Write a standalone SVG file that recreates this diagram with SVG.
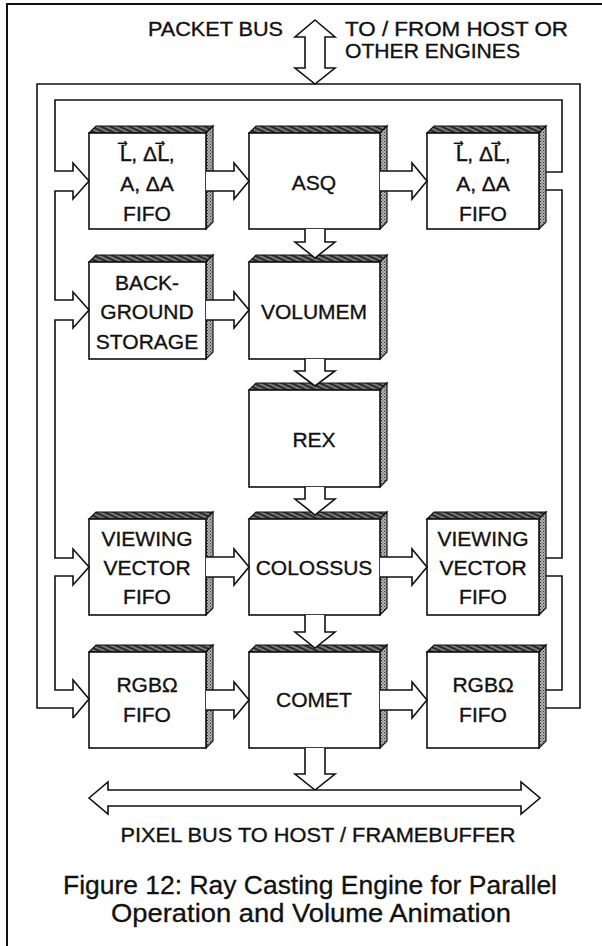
<svg xmlns="http://www.w3.org/2000/svg" width="602" height="946" viewBox="0 0 602 946">
<defs>
<pattern id="hatchTop" width="4" height="4" patternUnits="userSpaceOnUse" patternTransform="rotate(25)"><rect width="4" height="4" fill="#2a2a2a"/><line x1="0" y1="2" x2="4" y2="2" stroke="#d8d8d8" stroke-width="0.9"/></pattern>
<pattern id="stip" width="3" height="3" patternUnits="userSpaceOnUse"><rect width="3" height="3" fill="#b0b0b0"/><rect width="1" height="1" fill="#333"/><rect x="1.5" y="1.5" width="1" height="1" fill="#555"/></pattern>
</defs>
<style>
.frame{fill:none;stroke:#111;stroke-width:2}
.bus{fill:none;stroke:#111;stroke-width:1.6}
.arr{fill:#fff;stroke:#111;stroke-width:1.6;stroke-linejoin:miter}
.front{fill:#fff;stroke:#111;stroke-width:1.6}
.top{fill:url(#hatchTop);stroke:#111;stroke-width:1.2}
.side{fill:url(#stip);stroke:#111;stroke-width:1.2}
.lbl{font-family:"Liberation Sans",Arial,"DejaVu Sans",sans-serif;font-size:21px;text-anchor:middle;fill:#111;stroke:#111;stroke-width:0.35}
.hdr{font-family:"Liberation Sans",Arial,sans-serif;font-size:20px;fill:#111;stroke:#111;stroke-width:0.35}
.cap{font-family:"Liberation Sans",Arial,sans-serif;font-size:25px;text-anchor:middle;fill:#111;stroke:#111;stroke-width:0.3}
</style>
<rect width="602" height="946" fill="#fff"/>
<path class="frame" d="M7,946 V4 H602"/>

<g id="fifo_l1">
<polygon class="top" points="89,133 96,126 213,126 206,133"/>
<polygon class="side" points="206,133 213,126 213,222 206,229"/>
<rect class="front" x="89" y="133" width="117" height="96"/>
<text class="lbl" x="147" y="161">L⃗, ΔL⃗,</text>
<text class="lbl" x="147" y="191">A, ΔA</text>
<text class="lbl" x="147" y="221">FIFO</text>
</g>
<g id="asq">
<polygon class="top" points="249,133 256,126 387,126 380,133"/>
<polygon class="side" points="380,133 387,126 387,222 380,229"/>
<rect class="front" x="249" y="133" width="131" height="96"/>
<text class="lbl" x="314" y="190">ASQ</text>
</g>
<g id="fifo_r1">
<polygon class="top" points="427,133 434,126 546,126 539,133"/>
<polygon class="side" points="539,133 546,126 546,222 539,229"/>
<rect class="front" x="427" y="133" width="112" height="96"/>
<text class="lbl" x="483" y="161">L⃗, ΔL⃗,</text>
<text class="lbl" x="483" y="191">A, ΔA</text>
<text class="lbl" x="483" y="221">FIFO</text>
</g>
<g id="background_storage">
<polygon class="top" points="89,262 96,255 213,255 206,262"/>
<polygon class="side" points="206,262 213,255 213,352 206,359"/>
<rect class="front" x="89" y="262" width="117" height="97"/>
<text class="lbl" x="147" y="290">BACK-</text>
<text class="lbl" x="147" y="319">GROUND</text>
<text class="lbl" x="147" y="349">STORAGE</text>
</g>
<g id="volumem">
<polygon class="top" points="249,262 256,255 387,255 380,262"/>
<polygon class="side" points="380,262 387,255 387,352 380,359"/>
<rect class="front" x="249" y="262" width="131" height="97"/>
<text class="lbl" x="314" y="319">VOLUMEM</text>
</g>
<g id="rex">
<polygon class="top" points="249,390 256,383 387,383 380,390"/>
<polygon class="side" points="380,390 387,383 387,480 380,487"/>
<rect class="front" x="249" y="390" width="131" height="97"/>
<text class="lbl" x="314" y="447">REX</text>
</g>
<g id="vv_fifo_l">
<polygon class="top" points="89,519 96,512 213,512 206,519"/>
<polygon class="side" points="206,519 213,512 213,608 206,615"/>
<rect class="front" x="89" y="519" width="117" height="96"/>
<text class="lbl" x="147" y="546">VIEWING</text>
<text class="lbl" x="147" y="575">VECTOR</text>
<text class="lbl" x="147" y="604">FIFO</text>
</g>
<g id="colossus">
<polygon class="top" points="249,519 256,512 387,512 380,519"/>
<polygon class="side" points="380,519 387,512 387,608 380,615"/>
<rect class="front" x="249" y="519" width="131" height="96"/>
<text class="lbl" x="314" y="575">COLOSSUS</text>
</g>
<g id="vv_fifo_r">
<polygon class="top" points="427,519 434,512 546,512 539,519"/>
<polygon class="side" points="539,519 546,512 546,608 539,615"/>
<rect class="front" x="427" y="519" width="112" height="96"/>
<text class="lbl" x="483" y="546">VIEWING</text>
<text class="lbl" x="483" y="575">VECTOR</text>
<text class="lbl" x="483" y="604">FIFO</text>
</g>
<g id="rgb_fifo_l">
<polygon class="top" points="89,652 96,645 213,645 206,652"/>
<polygon class="side" points="206,652 213,645 213,741 206,748"/>
<rect class="front" x="89" y="652" width="117" height="96"/>
<text class="lbl" x="147" y="692">RGBΩ</text>
<text class="lbl" x="147" y="722">FIFO</text>
</g>
<g id="comet">
<polygon class="top" points="249,652 256,645 387,645 380,652"/>
<polygon class="side" points="380,652 387,645 387,741 380,748"/>
<rect class="front" x="249" y="652" width="131" height="96"/>
<text class="lbl" x="314" y="707">COMET</text>
</g>
<g id="rgb_fifo_r">
<polygon class="top" points="427,652 434,645 546,645 539,652"/>
<polygon class="side" points="539,652 546,645 546,741 539,748"/>
<rect class="front" x="427" y="652" width="112" height="96"/>
<text class="lbl" x="483" y="692">RGBΩ</text>
<text class="lbl" x="483" y="722">FIFO</text>
</g>

<g id="connectors">
<path class="bus" d="M73,718 V708 H37 V84 H580 V708 H546"/>
<path class="bus" d="M73,718 L89,699 L73,680 V690 H55 V576 H73 V585 L89,567 L73,549 V558 H55 V320 H73 V328 L89,310 L73,292 V300 H55 V191 H73 V199 L89,181 L73,163 V171 H55 V100 H562 V172 H546 M546,190 H562 V558 H546 M546,576 H562 V690 H546"/>
<path class="arr" d="M206,171 H234 V163 L249,181 L234,199 V191 H206"/>
<path class="arr" d="M380,171 H412 V163 L427,181 L412,199 V191 H380"/>
<path class="arr" d="M206,300 H234 V292 L249,310 L234,328 V320 H206"/>
<path class="arr" d="M206,557 H234 V549 L249,567 L234,585 V577 H206"/>
<path class="arr" d="M380,557 H412 V549 L427,567 L412,585 V577 H380"/>
<path class="arr" d="M206,690 H234 V682 L249,700 L234,718 V710 H206"/>
<path class="arr" d="M380,690 H412 V682 L427,700 L412,718 V710 H380"/>
<path class="arr" d="M305,229 V242 H295 L315,258 L335,242 H325 V229"/>
<path class="arr" d="M305,359 V371 H295 L315,386 L335,371 H325 V359"/>
<path class="arr" d="M305,487 V499 H295 L315,515 L335,499 H325 V487"/>
<path class="arr" d="M305,615 V632 H295 L315,648 L335,632 H325 V615"/>
<path class="arr" d="M305,748 V774 H295 L315,790 L335,774 H325 V748"/>
<path class="arr" d="M89,798 L108,782 V790 H521 V782 L540,798 L521,814 V806 H108 V814 Z"/>
<path class="arr" d="M315,20 L335,37 H325 V68 H335 L315,84 L295,68 H305 V37 H295 Z"/>
</g>

<text class="hdr" x="283" y="36" text-anchor="end" textLength="135" lengthAdjust="spacingAndGlyphs">PACKET BUS</text>
<text class="hdr" x="345" y="36" textLength="223" lengthAdjust="spacingAndGlyphs">TO / FROM HOST OR</text>
<text class="hdr" x="345" y="58" textLength="175" lengthAdjust="spacingAndGlyphs">OTHER ENGINES</text>
<text class="lbl" x="318" y="842" textLength="395" lengthAdjust="spacingAndGlyphs">PIXEL BUS TO HOST / FRAMEBUFFER</text>
<text class="cap" x="310" y="894" textLength="494" lengthAdjust="spacingAndGlyphs">Figure 12: Ray Casting Engine for Parallel</text>
<text class="cap" x="311" y="922" textLength="400" lengthAdjust="spacingAndGlyphs">Operation and Volume Animation</text>
</svg>
